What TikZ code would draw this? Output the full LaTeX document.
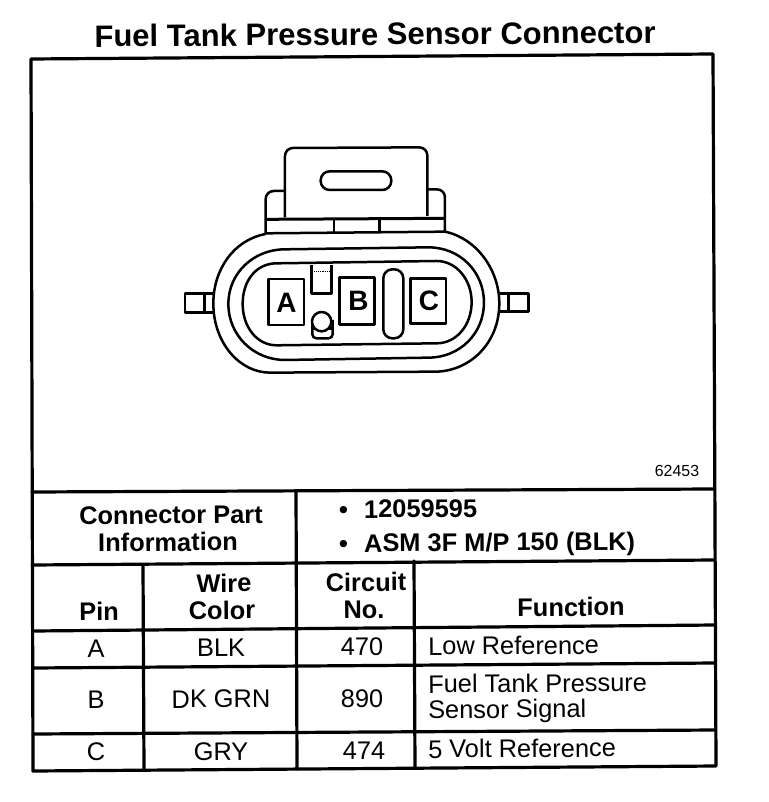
\documentclass[tikz,border=0pt]{standalone}
\usepackage{fontspec}
\setmainfont{Liberation Sans}
\tikzset{
  frameln/.style={line width=3.2pt,line cap=round,line join=round},
  partln/.style={line width=2.5pt,line join=round},
  thinln/.style={line width=1.2pt},
  lab/.style={inner sep=0pt,rotate=0.4,font=\fontsize{#1}{#1}\selectfont},
  blab/.style={inner sep=0pt,rotate=0.4,font=\fontsize{#1}{#1}\selectfont\bfseries},
}
\begin{document}
\begin{tikzpicture}[x=1pt,y=-1pt]
\useasboundingbox (0,0) rectangle (768,802);
\fill[white] (0,0) rectangle (768,802);
% frame and table
\draw[frameln] (31,59) -- (713,54) -- (716,766) -- (33,771) -- cycle;
\draw[frameln] (32,492) -- (714,489);
\draw[frameln] (32,565) -- (714,560);
\draw[frameln] (33,631) -- (715,625);
\draw[frameln] (33,668) -- (715,663);
\draw[frameln] (33,734) -- (715,730);
\draw[frameln] (296,491) -- (297,769);
\draw[frameln] (143,565) -- (144,770);
\draw[frameln] (414,561) -- (415,768);
% connector (coordinates of a 3x view)
\begin{scope}[shift={(170,130)},x=0.3333pt,y=-0.3333pt,partln]
 \draw[rounded corners=8pt] (345,262) -- (345,54) -- (772,52) -- (772,258);
 \draw[rounded corners=9pt] (452,124) rectangle (664,180);
 \draw[rounded corners=8pt] (345,183) -- (287,183) -- (287,312);
 \draw[rounded corners=8pt] (772,178) -- (825,178) -- (825,305);
 \draw[line width=3pt] (287,268) -- (825,265);
 \draw (492,268) -- (492,307);
 \draw (628,266) -- (628,306);
 % outer oval
 \draw (287,312) .. controls (190,330) and (130,420) .. (130,520) .. controls (130,640) and (210,728) .. (300,728) -- (800,725) .. controls (900,722) and (988,640) .. (988,520) .. controls (988,420) and (920,325) .. (825,305);
 \draw (287,310) -- (825,305);
 % middle oval
 \draw (175,522) .. controls (175,430) and (250,358) .. (345,358) -- (775,352) .. controls (870,352) and (942,425) .. (942,518) .. controls (942,610) and (870,683) .. (775,683) -- (345,690) .. controls (250,690) and (175,615) .. cycle;
 % inner oval
 \draw (218,522) .. controls (218,450) and (260,400) .. (320,400) -- (800,393) .. controls (860,393) and (905,450) .. (905,516) .. controls (905,585) and (860,640) .. (800,640) -- (320,646) .. controls (260,646) and (218,590) .. cycle;
 % pin boxes
 \draw (296,447) rectangle (402,585);
 \draw[line width=3pt] (510,443) rectangle (615,585);
 \draw (722,445) rectangle (828,580);
 % key and pin
 \draw (424,405) -- (424,490) -- (484,490) -- (484,405);
 \draw[thinln,densely dotted] (424,425) -- (484,425);
 \draw[rounded corners=4pt] (427,570) -- (427,625) -- (488,625) -- (488,570);
 \draw (427,595) -- (488,595);
 \draw[fill=white] (455,575) circle[radius=29];
 % bar
 \draw[rounded corners=9pt] (640,418) rectangle (700,625);
 % side stubs
 \draw (130,490) -- (45,490) -- (45,548) -- (130,548);
 \draw[line width=3pt] (103,490) -- (103,548);
 \draw (988,490) -- (1075,490) -- (1075,545) -- (988,545);
 \draw[line width=3pt] (1015,490) -- (1015,545);
 % pin letters
 \node[blab=28] (pa) at (349,518) {A};
 \node[blab=28] (pb) at (565,512) {B};
 \node[blab=28] (pc) at (777,512) {C};
\end{scope}
% texts
\node[blab=31] (title) at (375,34) {Fuel Tank Pressure Sensor Connector};
\node[lab=16] (fig) at (677,471) {62453};
\node[blab=25.4] (h1) at (171,515) {Connector Part};
\node[blab=25.4] (h2) at (168,542) {Information};
\node[blab=25.4,anchor=base west] (b1) at (339,518) {•};
\node[blab=25.4,anchor=base west] (p1) at (364,518) {12059595};
\node[blab=25.4,anchor=base west] (b2) at (339,552) {•};
\node[blab=25.4,anchor=base west] (p2) at (364,552) {ASM 3F M/P 150 (BLK)};
\node[blab=25.4] (cpin) at (99,611) {Pin};
\node[blab=25.4] (cw1) at (224,583) {Wire};
\node[blab=25.4] (cw2) at (222,610) {Color};
\node[blab=25.4] (cc1) at (366,582) {Circuit};
\node[blab=25.4] (cc2) at (364,610) {No.};
\node[blab=25.4] (cf) at (571,607) {Function};
\node[lab=25.4] (ra1) at (96,649) {A};
\node[lab=25.4] (ra2) at (221,648) {BLK};
\node[lab=25.4] (ra3) at (362,647) {470};
\node[lab=25.4,anchor=west] (ra4) at (428,646) {Low Reference};
\node[lab=25.4] (rb1) at (96,700) {B};
\node[lab=25.4] (rb2) at (221,699) {DK GRN};
\node[lab=25.4] (rb3) at (362,699) {890};
\node[lab=25.4,anchor=west] (rb4) at (428,684) {Fuel Tank Pressure};
\node[lab=25.4,anchor=west] (rb5) at (428,712) {Sensor Signal};
\node[lab=25.4] (rc1) at (96,752) {C};
\node[lab=25.4] (rc2) at (221,752) {GRY};
\node[lab=25.4] (rc3) at (364,751) {474};
\node[lab=25.4,anchor=west] (rc4) at (428,749) {5 Volt Reference};
\end{tikzpicture}
\end{document}
